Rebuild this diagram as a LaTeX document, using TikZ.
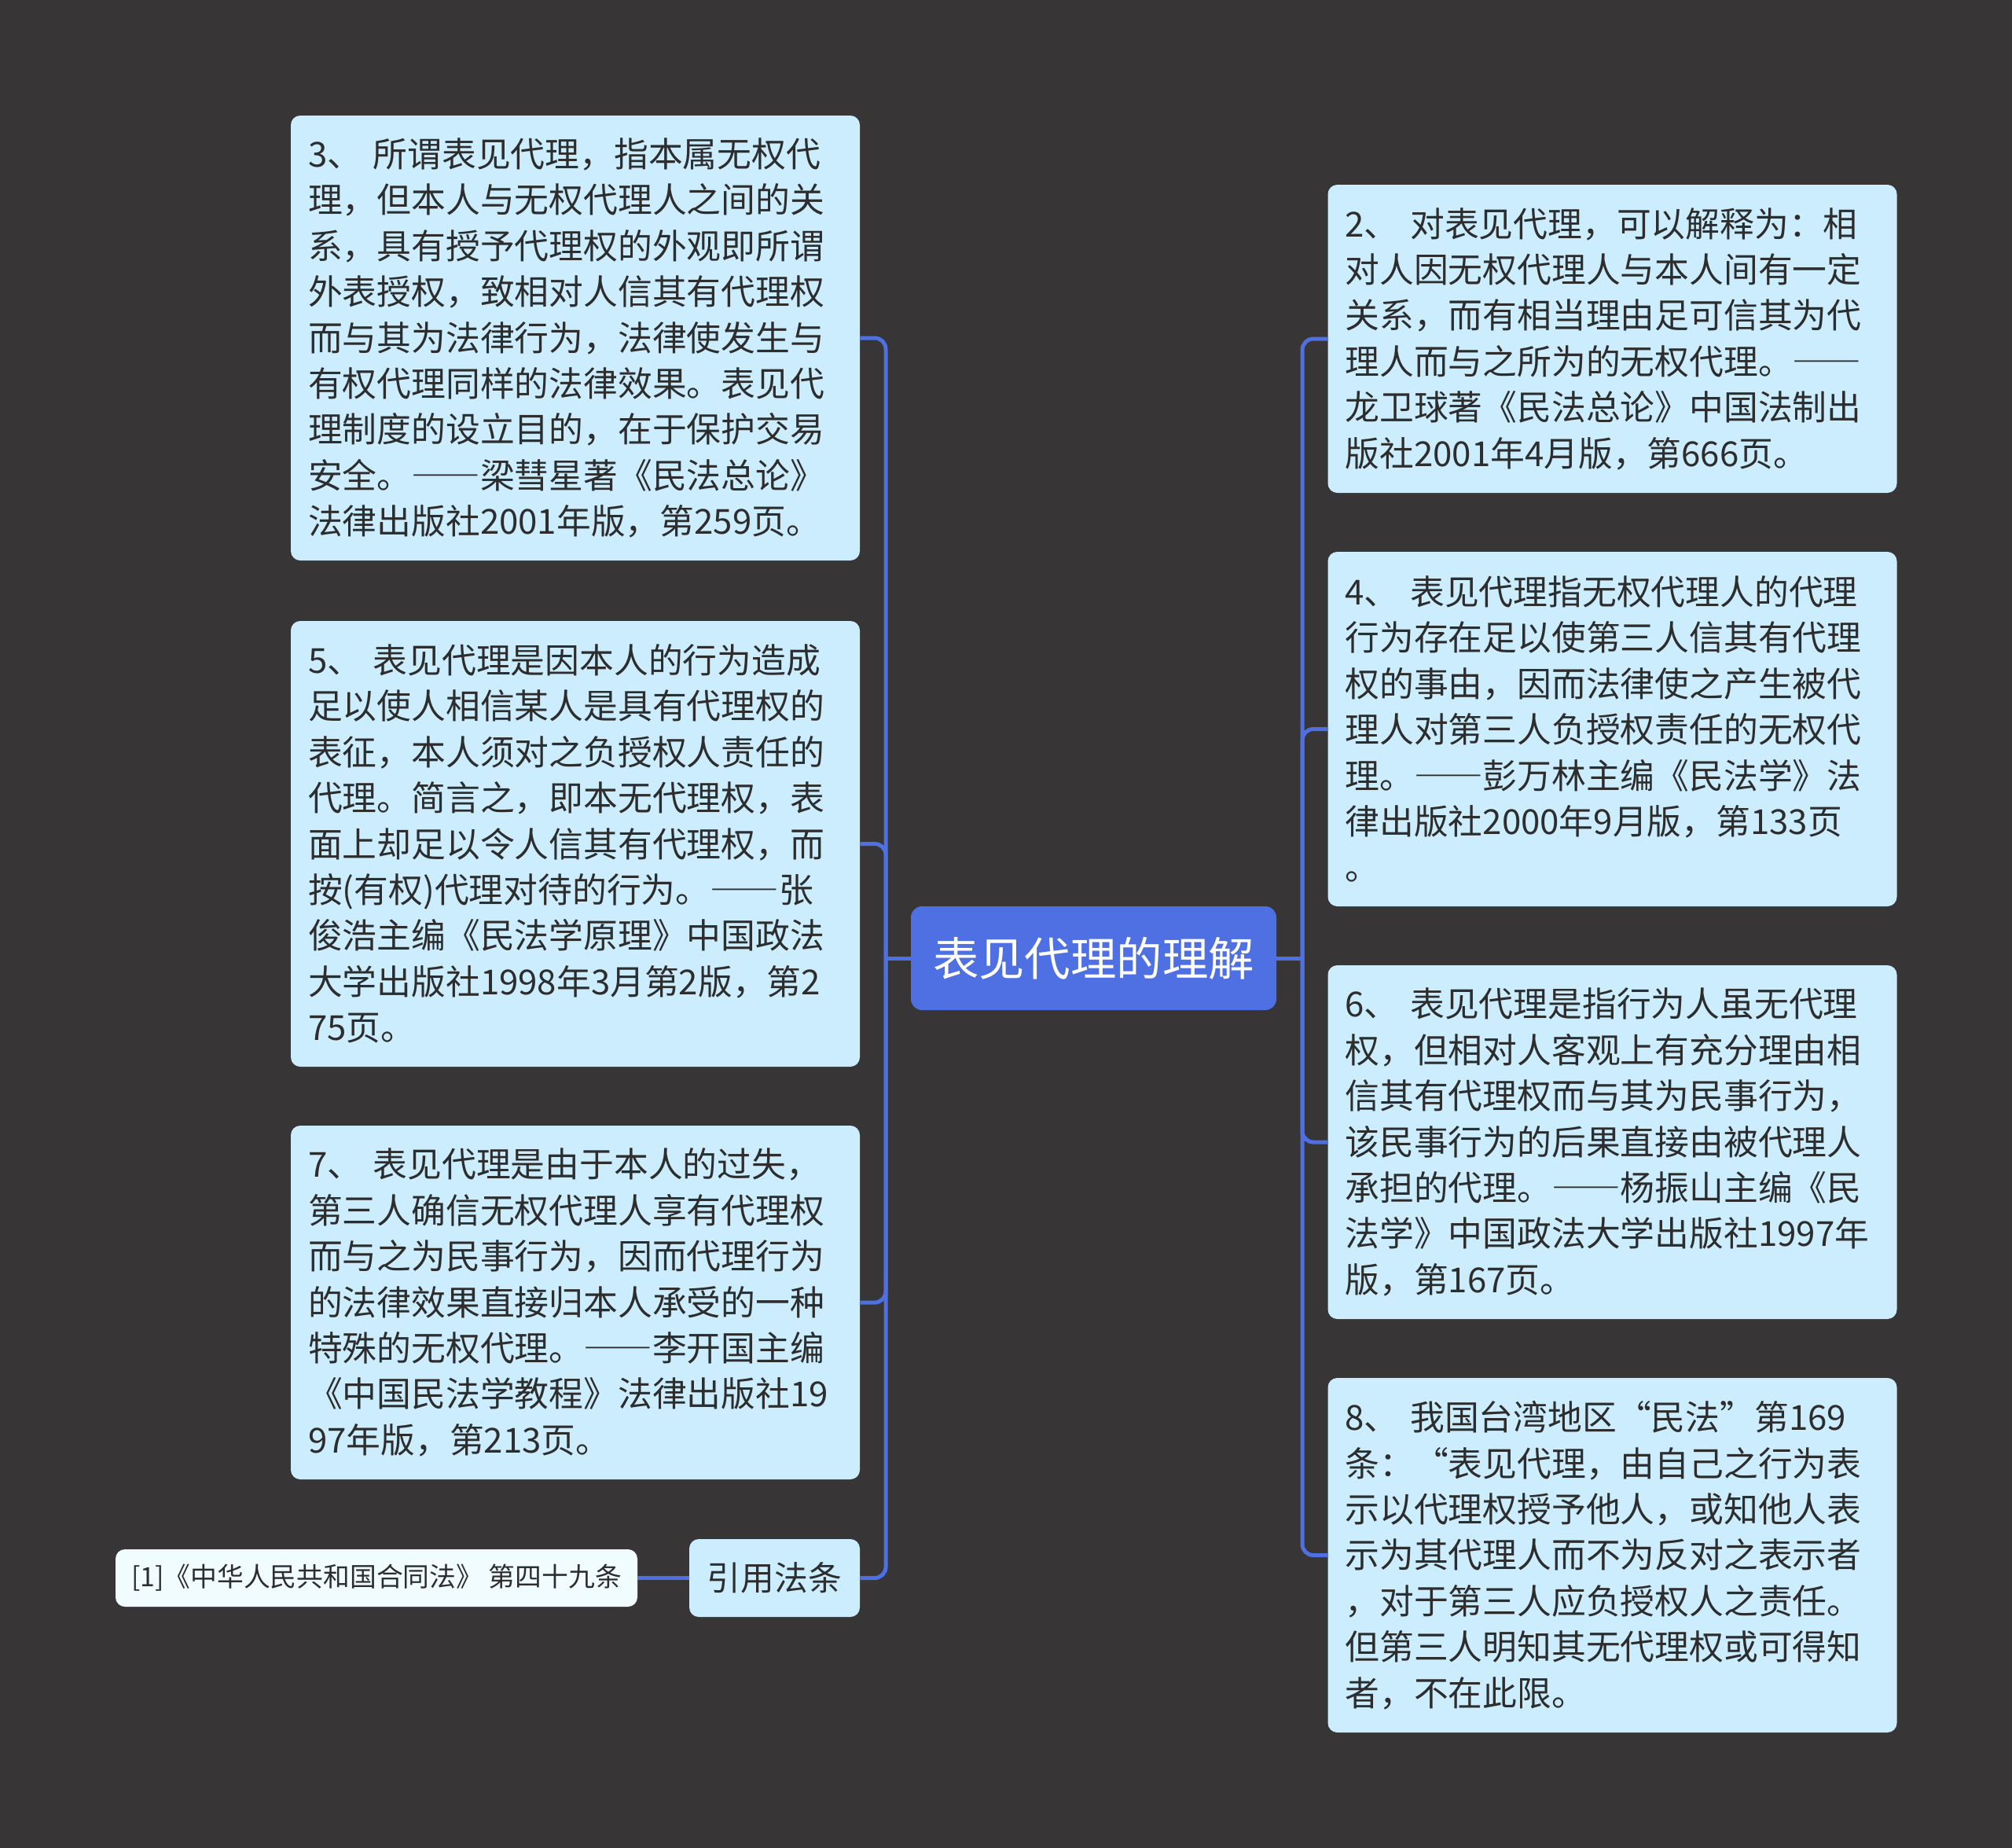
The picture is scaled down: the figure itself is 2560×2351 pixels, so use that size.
\documentclass[tikz,border=0pt]{standalone}
\usepackage{fontspec}
\setmainfont{Noto Sans CJK SC}
\newcommand{\dashpair}{{\addfontfeatures{CharacterWidth=Full}——}}
\definecolor{bgc}{RGB}{55,53,54}
\definecolor{cardc}{RGB}{203,237,253}
\definecolor{lawc}{RGB}{240,252,255}
\definecolor{bluec}{RGB}{78,112,226}
\definecolor{txtc}{RGB}{45,45,45}
\begin{document}
\begin{tikzpicture}[x=0.5pt,y=-0.5pt,
  card/.style={fill=cardc, rounded corners=6pt, inner xsep=11pt, inner ysep=0pt,
    text width=340pt, align=left, text=txtc,
    font=\fontsize{21.9pt}{29.2pt}\selectfont, minimum height=#1},
  topicbox/.style={fill=bluec, rounded corners=7pt, text=white, inner sep=0pt,
    minimum width=232.5pt, minimum height=66pt,
    font=\fontsize{29.2pt}{34pt}\selectfont},
  citebox/.style={fill=cardc, rounded corners=6pt, text=txtc, inner sep=0pt,
    minimum width=108.5pt, minimum height=49.5pt,
    font=\fontsize{21.4pt}{26pt}\selectfont},
  lawbox/.style={fill=lawc, rounded corners=6pt, text=txtc, inner sep=0pt,
    minimum width=332pt, minimum height=36.5pt,
    font=\fontsize{16.9pt}{20pt}\selectfont},
  conn/.style={draw=bluec, line width=2.5pt, rounded corners=7pt}
]
\path[fill=bgc] (0,0) rectangle (2560,2351);

% centre
\node[topicbox] (topic) at (1391.5,1219) {表见代理的理解};

% left column
\node[card=283pt] (b3) at (732,430) {3、 所谓表见代理，指本属无权代\\
理，但本人与无权代理人之间的关\\
系，具有授予代理权的外观即所谓\\
外表授权，致相对人信其有代理权\\
而与其为法律行为，法律使发生与\\
有权代理同样的法律效果。表见代\\
理制度的设立目的，在于保护交易\\
安全。\dashpair 梁彗星著《民法总论》\\
法律出版社2001年版，第259页。};

\node[card=283.5pt] (b5) at (732,1073.5) {5、 表见代理是因本人的行为造成\\
足以使人相信某人是具有代理权的\\
表征，本人须对之负授权人责任的\\
代理。简言之，即本无代理权，表\\
面上却足以令人信其有代理权，而\\
按(有权)代理对待的行为。\dashpair 张\\
俊浩主编《民法学原理》中国政法\\
大学出版社1998年3月第2版，第2\\
75页。};

\node[card=225pt] (b7) at (732,1657) {7、 表见代理是由于本人的过失，\\
第三人确信无权代理人享有代理权\\
而与之为民事行为，因而代理行为\\
的法律效果直接归本人承受的一种\\
特殊的无权代理。\dashpair 李开国主编\\
《中国民法学教程》法律出版社19\\
97年版，第213页。};

\node[citebox] (cite) at (985.5,2007.5) {引用法条};
\node[lawbox] (law) at (479,2007.5) {[1]《中华人民共和国合同法》 第四十九条};

% right column
\node[card=196pt] (b2) at (2051.5,431) {2、 对表见代理，可以解释为：相\\
对人因无权代理人与本人间有一定\\
关系，而有相当理由足可信其为代\\
理人而与之所为的无权代理。\dashpair\\
龙卫球著《民法总论》中国法制出\\
版社2001年4月版，第666页。};

\node[card=225.5pt] (b4) at (2051.5,927.5) {4、 表见代理指无权代理人的代理\\
行为存在足以使第三人信其有代理\\
权的事由，因而法律使之产生被代\\
理人对第三人负授权责任的无权代\\
理。\dashpair 彭万林主编《民法学》法\\
律出版社2000年9月版，第133页\\
。};

\node[card=225pt] (b6) at (2051.5,1453) {6、 表见代理是指行为人虽无代理\\
权，但相对人客观上有充分理由相\\
信其有代理权而与其为民事行为，\\
该民事行为的后果直接由被代理人\\
承担的代理。\dashpair 杨振山主编《民\\
法学》中国政法大学出版社1997年\\
版，第167页。};

\node[card=225.5pt] (b8) at (2051.5,1978.5) {8、 我国台湾地区“民法”第169\\
条：“表见代理，由自己之行为表\\
示以代理权授予他人，或知他人表\\
示为其代理人而不为反对之表示者\\
，对于第三人应负授权人之责任。\\
但第三人明知其无代理权或可得知\\
者，不在此限。};

% connectors
\coordinate (lj) at (1127,1219);
\coordinate (rj) at (1657,1219);
\draw[conn] (topic.west) -- (lj);
\foreach \n in {b3,b5,b7,cite} \draw[conn] (lj) |- (\n.east);
\draw[conn] (topic.east) -- (rj);
\foreach \n in {b2,b4,b6,b8} \draw[conn] (rj) |- (\n.west);
\draw[conn] (law.east) -- (cite.west);
\end{tikzpicture}
\end{document}
